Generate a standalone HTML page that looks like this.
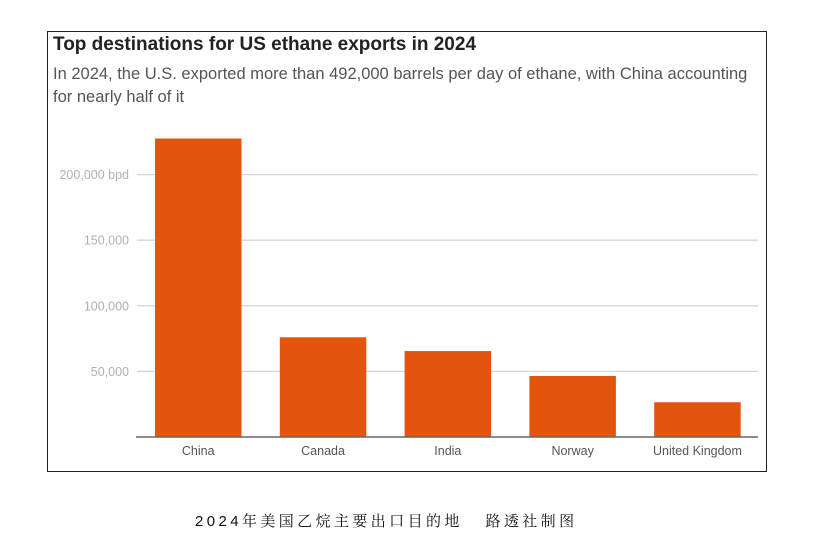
<!DOCTYPE html>
<html><head><meta charset="utf-8"><style>
body{margin:0;width:819px;height:557px;background:#fff;position:relative;font-family:"Liberation Sans",sans-serif;overflow:hidden}
#frame{position:absolute;left:47px;top:31px;width:718px;height:439px;border:1px solid #222;box-sizing:content-box}
#title{position:absolute;left:53px;top:34px;font-size:19px;font-weight:bold;color:#222;letter-spacing:0px}
#sub{position:absolute;left:53px;top:63px;font-size:16.5px;letter-spacing:0px;color:#555;line-height:23px;width:705px}
#cap{position:absolute;left:195px;top:510px;font-size:15px;letter-spacing:3.4px;color:#111;font-family:"Liberation Sans","Noto Serif CJK SC",serif;white-space:pre}
svg{position:absolute;left:0;top:0}
</style></head><body>
<div id="frame"></div>
<div id="title">Top destinations for US ethane exports in 2024</div>
<div id="sub">In 2024, the U.S. exported more than 492,000 barrels per day of ethane, with China accounting for nearly half of it</div>
<svg id="chart" width="819" height="557"></svg>
<div id="cap">2024年美国乙烷主要出口目的地   路透社制图</div>
<script>
const categories=["China","Canada","India","Norway","United Kingdom"];
const values=[227500,76000,65500,46500,26500];
const ticks=[50000,100000,150000,200000];
const tickLabels=["50,000","100,000","150,000","200,000 bpd"];
const svg=document.getElementById('chart');
const NS="http://www.w3.org/2000/svg";
const y0=437,pxPer=65.6/50000;
const y=v=>y0-v*pxPer;
const x=i=>155+i*124.8;
const bw=86.5;
function mk(t,a){const e=document.createElementNS(NS,t);for(const k in a)e.setAttribute(k,a[k]);svg.appendChild(e);return e;}
ticks.forEach((t,i)=>{
 const l=mk('line',{x1:137,x2:758,y1:y(t),y2:y(t),stroke:'#d6d6d6','stroke-width':1.3});
 
 
 const tx=mk('text',{x:129,y:y(t)+4.5,'text-anchor':'end','font-size':12.5,fill:'#b0b0b0','font-family':'Liberation Sans'});
 tx.textContent=tickLabels[i];
 
 
});
categories.forEach((c,i)=>{
 const r=mk('rect',{x:x(i),y:y(values[i]),width:bw,height:values[i]*pxPer,fill:'#e3550f'});
 
 
 const t=mk('text',{x:x(i)+bw/2,y:455,'text-anchor':'middle','font-size':12.5,fill:'#555','font-family':'Liberation Sans'});
 t.textContent=c;
 
 
});
const ax=mk('line',{x1:136,x2:758,y1:y0,y2:y0,stroke:'#666','stroke-width':1.5});


</script>
</body></html>
